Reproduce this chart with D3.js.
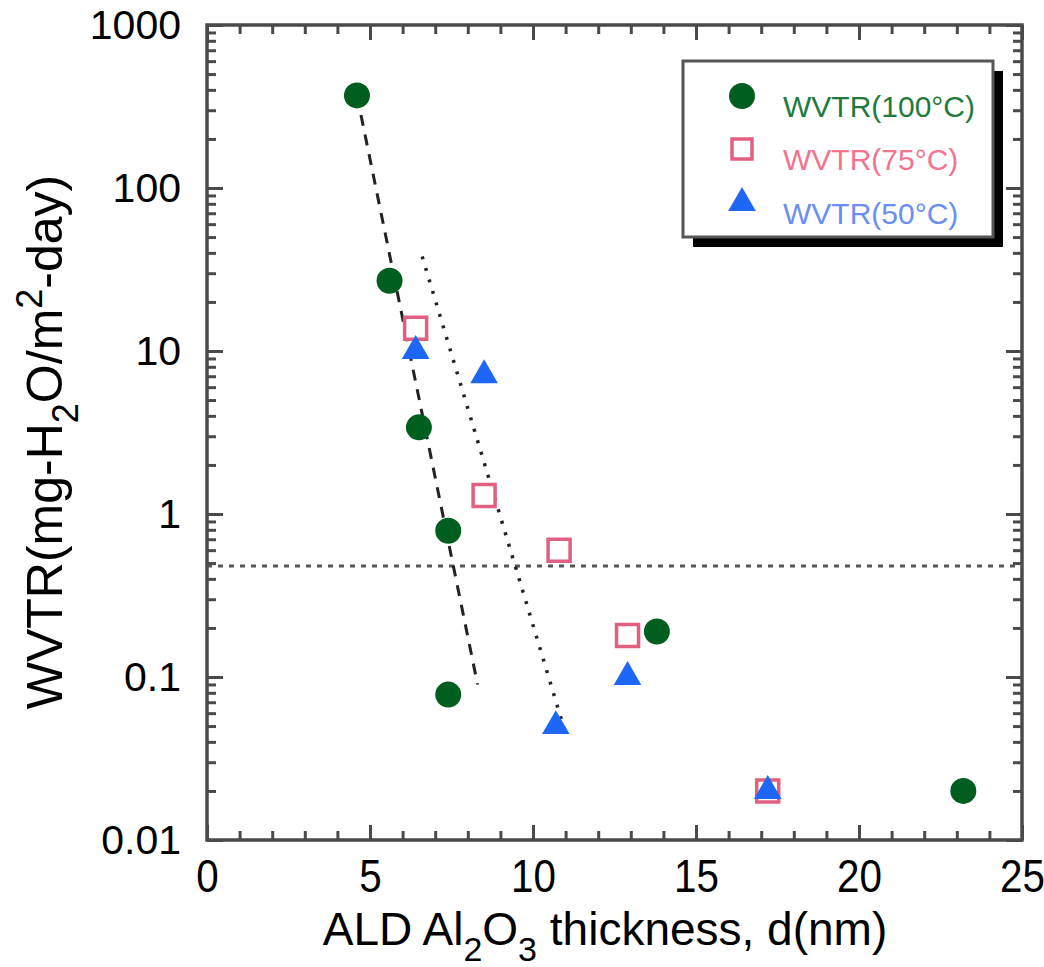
<!DOCTYPE html>
<html><head><meta charset="utf-8">
<script src="https://cdn.jsdelivr.net/npm/d3@7"></script>
<style>body{margin:0;background:#fff}svg{display:block}text{font-family:"Liberation Sans",Arial,sans-serif}</style>
</head><body><svg id="c" width="1044" height="967"></svg>
<script>
// ---- data ----
const x100 = [4.6, 5.6, 6.5, 7.4, 7.4, 13.8, 23.2];
const y100 = [370, 27, 3.4, 0.79, 0.078, 0.19, 0.02];
const x75 = [6.4, 8.5, 10.8, 12.9, 17.2];
const y75 = [13.8, 1.3, 0.6, 0.18, 0.02];
const x50 = [6.4, 8.5, 10.7, 12.9, 17.2];
const y50 = [10, 7.1, 0.05, 0.1, 0.02];
const fit100X = [4.6, 8.3];
const fit100Y = [370, 0.09];
const fit75X = [6.6, 11.0];
const fit75Y = [38, 0.045];
const thresholdY = 0.48;
const xTicks = [0, 5, 10, 15, 20, 25];
const yTicks = [0.01, 0.1, 1, 10, 100, 1000];
const yTickLabels = ["0.01", "0.1", "1", "10", "100", "1000"];
const seriesNames = ["WVTR(100°C)", "WVTR(75°C)", "WVTR(50°C)"];

const svg = d3.select("#c");
const L = 207, R = 1022, T = 25, B = 840;
const x = d3.scaleLinear().domain([0, 25]).range([L, R]);
const y = d3.scaleLog().domain([0.01, 1000]).range([B, T]);

const green = "#005f1f", pink = "#e2607f", blue = "#1e66f5";
const axisCol = "#4a4a4a";

const xMinor = d3.range(0, 26).filter(v => v % 5 !== 0);
const yMinor = [];
[0.01, 0.1, 1, 10, 100].forEach(d => { for (let k = 2; k <= 9; k++) yMinor.push(d * k); });

function styleAxis(g) {
  g.select(".domain").remove();
  g.selectAll("line").attr("stroke", axisCol).attr("stroke-width", 3);
}
// bottom
svg.append("g").attr("transform", `translate(0,${B})`)
  .call(d3.axisBottom(x).tickValues(xMinor).tickSize(-9).tickFormat("")).call(styleAxis);
const xa = svg.append("g").attr("transform", `translate(0,${B})`)
  .call(d3.axisBottom(x).tickValues(xTicks).tickSize(-15).tickFormat(d3.format("d"))).call(styleAxis);
xa.selectAll("text").attr("font-size", 47).attr("fill", "#000")
  .attr("y", 52).attr("dy", null).attr("transform", "scale(0.86,1)");
// top
svg.append("g").attr("transform", `translate(0,${T})`)
  .call(d3.axisTop(x).tickValues(xMinor).tickSize(-9).tickFormat("")).call(styleAxis);
svg.append("g").attr("transform", `translate(0,${T})`)
  .call(d3.axisTop(x).tickValues(xTicks).tickSize(-15).tickFormat("")).call(styleAxis);
// left
svg.append("g").attr("transform", `translate(${L},0)`)
  .call(d3.axisLeft(y).tickValues(yMinor).tickSize(-9).tickFormat("")).call(styleAxis);
const ya = svg.append("g").attr("transform", `translate(${L},0)`)
  .call(d3.axisLeft(y).tickValues(yTicks).tickSize(-16).tickPadding(26).tickFormat((d, i) => yTickLabels[i])).call(styleAxis);
ya.selectAll("text").attr("font-size", 41).attr("fill", "#000");
// right
svg.append("g").attr("transform", `translate(${R},0)`)
  .call(d3.axisRight(y).tickValues(yMinor).tickSize(-9).tickFormat("")).call(styleAxis);
svg.append("g").attr("transform", `translate(${R},0)`)
  .call(d3.axisRight(y).tickValues(yTicks).tickSize(-16).tickFormat("")).call(styleAxis);

// frame
svg.append("rect").attr("x", L).attr("y", T).attr("width", R - L).attr("height", B - T)
  .attr("fill", "none").attr("stroke", axisCol).attr("stroke-width", 3.5);

// threshold line
svg.append("line").attr("x1", L).attr("x2", R).attr("y1", y(thresholdY)).attr("y2", y(thresholdY))
  .attr("stroke", "#555").attr("stroke-width", 3).attr("stroke-dasharray", "5,6");

const line = d3.line().x(d => x(d[0])).y(d => y(d[1]));
svg.append("path").attr("d", line(d3.zip(fit100X, fit100Y))).attr("fill", "none")
  .attr("stroke", "#222").attr("stroke-width", 3).attr("stroke-dasharray", "11,9");
svg.append("path").attr("d", line(d3.zip(fit75X, fit75Y))).attr("fill", "none")
  .attr("stroke", "#222").attr("stroke-width", 3.5).attr("stroke-dasharray", "3,9");

const sq = d3.symbol().type(d3.symbolSquare).size(22 * 22);
const tri = d3.symbol().type(d3.symbolTriangle).size(330);
const circ = d3.symbol().type(d3.symbolCircle).size(Math.PI * 13 * 13);

svg.append("g").selectAll("path").data(d3.zip(x75, y75)).join("path")
  .attr("d", sq).attr("transform", d => `translate(${x(d[0])},${y(d[1])})`)
  .attr("fill", "#fff").attr("stroke", pink).attr("stroke-width", 3.5);
svg.append("g").selectAll("path").data(d3.zip(x50, y50)).join("path")
  .attr("d", tri).attr("transform", d => `translate(${x(d[0])},${y(d[1])})`)
  .attr("fill", blue);
svg.append("g").selectAll("path").data(d3.zip(x100, y100)).join("path")
  .attr("d", circ).attr("transform", d => `translate(${x(d[0])},${y(d[1])})`)
  .attr("fill", green);

// legend
const lg = svg.append("g");
lg.append("rect").attr("x", 693).attr("y", 71).attr("width", 310).attr("height", 176).attr("fill", "#000");
lg.append("rect").attr("x", 683).attr("y", 61).attr("width", 310).attr("height", 176)
  .attr("fill", "#fff").attr("stroke", "#555").attr("stroke-width", 3);
const legCols = ["#1f7a3c", "#f27490", "#6a8ef2"];
const legY = [96, 149, 203];
lg.append("path").attr("d", circ).attr("transform", `translate(742,${legY[0]})`).attr("fill", green);
lg.append("path").attr("d", d3.symbol().type(d3.symbolSquare).size(20 * 20)).attr("transform", `translate(742,${legY[1]})`)
  .attr("fill", "#fff").attr("stroke", pink).attr("stroke-width", 3.5);
lg.append("path").attr("d", tri).attr("transform", `translate(742,${legY[2]})`).attr("fill", blue);
seriesNames.forEach((n, i) => {
  lg.append("text").attr("x", 783).attr("y", legY[i] + 21).attr("font-size", 30)
    .attr("fill", legCols[i]).text(n);
});

// axis titles
const xt = svg.append("text").attr("x", 605).attr("y", 945).attr("text-anchor", "middle")
  .attr("font-size", 46).attr("fill", "#000");
xt.append("tspan").text("ALD Al");
xt.append("tspan").attr("dy", 16).attr("font-size", 34).text("2");
xt.append("tspan").attr("dy", -16).text("O");
xt.append("tspan").attr("dy", 16).attr("font-size", 34).text("3");
xt.append("tspan").attr("dy", -16).text(" thickness, d(nm)");

const yt = svg.append("text").attr("transform", "translate(62,442) rotate(-90)").attr("text-anchor", "middle")
  .attr("font-size", 50).attr("fill", "#000");
yt.append("tspan").text("WVTR(mg-H");
yt.append("tspan").attr("dy", 16).attr("font-size", 36).text("2");
yt.append("tspan").attr("dy", -16).text("O/m");
yt.append("tspan").attr("dy", -20).attr("font-size", 36).text("2");
yt.append("tspan").attr("dy", 20).text("-day)");
</script></body></html>
